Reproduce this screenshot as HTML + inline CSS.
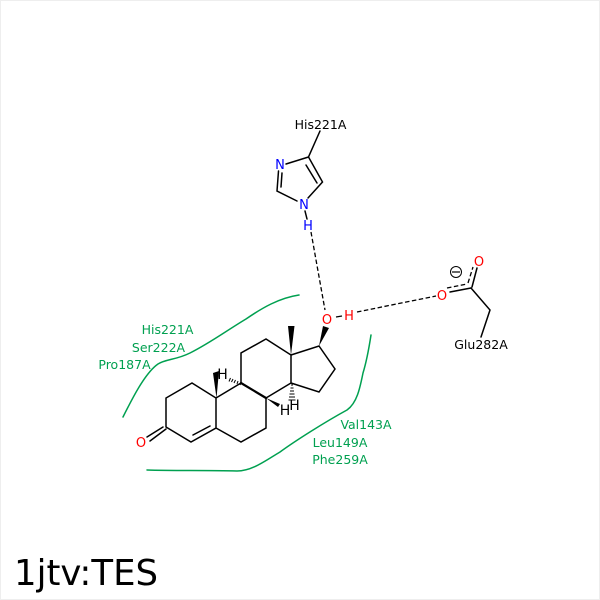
<!DOCTYPE html>
<html><head><meta charset="utf-8"><style>
html,body{margin:0;padding:0;background:#fff}
svg{display:block}
text{font-family:"DejaVu Sans",sans-serif}
</style></head><body>
<svg width="600" height="600" viewBox="0 0 600 600" xmlns="http://www.w3.org/2000/svg">
<rect x="0.5" y="0.5" width="599" height="599" fill="#fff" stroke="#eeeeee"/>
<g fill="none" stroke="#00a050" stroke-width="1.5" stroke-linecap="round">
<path d="M123 417C132 399 145 373 158 364C166 359 176 360 190 353C210 343 226 331 246 319C262 308 279 298 299 295"/>
<path d="M147 470C175 471 205 470 237 471C252 471 265 461 280 452C295 441 325 422 347 410C357 403 360 388 363 373C367 360 369 348 371 335"/>
</g>
<g fill="none" stroke="#000" stroke-width="1.5" stroke-linecap="round">
<path d="M320 131L308.500 157L322.500 182L308 198M297 201L277 191L278.500 171M286 164L308.500 157M306 165L317 183M282 173L281 187"/>
<path d="M305 211L307 219"/>
<path d="M471 288L490 310L481 337"/>
<path d="M450 292L471 288"/>
<path d="M472 287L477 268"/>
<path d="M166 427L166 398L192 383L216 398L216 428L191 442L166 427M216 428L241 442L266 428L266 398L241 383L216 398M193 435L210 426M241 383L241 353L266 339L291 355L291 383L266 398M291 355L319 346L335 369L319 392L291 383M147 437L163 427M150 441L166 429"/>
<path d="M241 383L266 398" stroke-width="2.200"/>
</g>
<g fill="#000" stroke="none">
<polygon points="291,355 288,326 294.500,326"/>
<polygon points="319,346 323,326 329,328"/>
<polygon points="216.500,398 213,373 219,371"/>
<polygon points="266,398 280,404 278,407"/>
</g>
<g stroke="#000" stroke-width="1" fill="none">
<path d="M241 383L240 385M238 381L237 384M235.500 380L234 383M233 379L231.500 382M230.500 378L229 381.500"/>
<path d="M291 385L293 385M290.500 388L293.500 388M290 391L294 391M289.500 394L294.500 394M289 397L295 397M288.500 400L295.500 400"/>
</g>
<g fill="none" stroke="#000" stroke-width="1.300" stroke-dasharray="4.500 2.500">
<path d="M311 232L325 310"/>
<path d="M357 312L436 296"/>
<path d="M447 288L467 284"/>
<path d="M468 283L473 267"/>
</g>
<path d="M336 317L342 316" stroke="#000" stroke-width="1.300" fill="none"/>
<circle cx="456" cy="272" r="5.500" fill="none" stroke="#000" stroke-width="1"/>
<path d="M452 272H460" stroke="#000" stroke-width="1.200"/>
<g font-size="12.500" fill="#000" text-anchor="middle">
<text x="320.500" y="129">His221A</text>
<text x="481" y="349">Glu282A</text>
</g>
<g font-size="14" fill="#000" text-anchor="middle">
<text x="222.500" y="379">H</text>
<text x="285" y="415">H</text>
<text x="294.500" y="410">H</text>
</g>
<g font-size="13" fill="#0000ff" text-anchor="middle">
<text x="280" y="169">N</text>
<text x="304" y="209">N</text>
<text x="308" y="230">H</text>
</g>
<g font-size="13" fill="#ff0000" text-anchor="middle">
<text x="327" y="324">O</text>
<text x="349" y="320">H</text>
<text x="442" y="300">O</text>
<text x="479" y="266">O</text>
<text x="141" y="447">O</text>
</g>
<g font-size="12.500" fill="#00a050" text-anchor="middle">
<text x="167.500" y="334">His221A</text>
<text x="158.500" y="352">Ser222A</text>
<text x="124.500" y="369">Pro187A</text>
<text x="366" y="429">Val143A</text>
<text x="340" y="447">Leu149A</text>
<text x="340" y="464">Phe259A</text>
</g>
<text x="14" y="585" font-size="35.500" fill="#000">1jtv:TES</text>
</svg>
</body></html>
